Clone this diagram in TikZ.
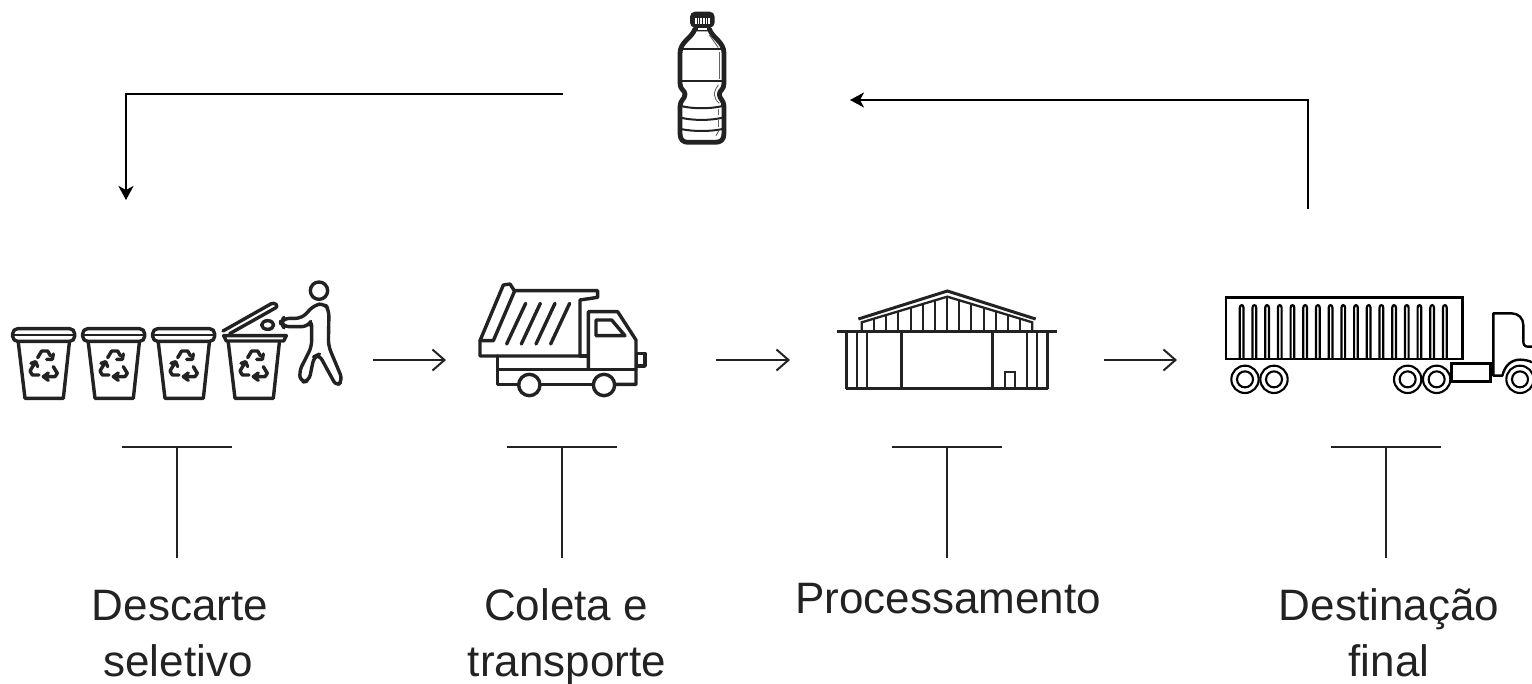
\documentclass[tikz,border=0pt]{standalone}
\usepackage{fontspec}
\setmainfont{Liberation Sans}
\usetikzlibrary{arrows.meta}
\definecolor{ink}{HTML}{222222}
\newcommand{\binbody}[1]{%
  \begin{scope}[shift={(#1,0)}]
    \path[icon] (55,218) -- (75,385) -- (190,385) -- (208,218);
    \begin{scope}[shift={(75,225)}]
      \path[icon] (38,38) -- (50,18) -- (68,18) -- (76,32);
      \path[icon] (65,43) -- (82,43) -- (85,27);
      \path[icon] (42,90) -- (22,90) -- (15,78) -- (27,58);
      \path[icon] (18,55) -- (32,50) -- (38,65);
      \path[icon] (85,65) -- (97,85) -- (90,95) -- (60,95);
      \path[icon] (70,84) -- (55,95) -- (70,106);
    \end{scope}
  \end{scope}}
\newcommand{\fullbin}[1]{%
  \begin{scope}[shift={(#1,0)}]
    \path[icon,rounded corners=5pt] (38,176) rectangle (224,214);
    \path[draw=ink,line width=2.6pt] (38,195) -- (224,195);
  \end{scope}
  \binbody{#1}}
\tikzset{
  x=1pt,y=-1pt,
  icon/.style={draw=ink,line width=3.4pt,line join=round,line cap=round},
  thinicon/.style={draw=ink,line width=2pt,line join=round,line cap=round},
  flow/.style={draw=black,line width=2.3pt,-{Stealth[length=14pt,width=15pt,inset=4pt]}},
  stepflow/.style={draw=ink,line width=1.8pt,-{Straight Barb[length=12pt,width=21pt,line width=2pt]}},
  stem/.style={draw=ink,line width=1.3pt},
  caption/.style={font=\fontsize{44}{56}\selectfont,align=center,inner sep=0pt,text=ink,anchor=base},
}
\begin{document}
\begin{tikzpicture}
\useasboundingbox (0,0) rectangle (1532,683);
\path[fill=white] (0,0) rectangle (1532,683);

% ---- bottle
\begin{scope}[shift={(660,5)},scale=1/3]
  \path[draw=ink,line width=4.8pt,line join=round,fill=white]
    (105,72) .. controls (95,100) and (60,110) .. (60,145) -- (60,235)
    .. controls (60,255) and (75,255) .. (75,268) .. controls (75,282) and (60,285) .. (60,305)
    -- (60,385) .. controls (60,405) and (70,412) .. (85,412) -- (165,412)
    .. controls (182,412) and (192,405) .. (192,385) -- (192,305)
    .. controls (192,285) and (178,282) .. (178,268) .. controls (178,255) and (192,255) .. (192,235)
    -- (192,145) .. controls (192,110) and (158,100) .. (148,72) -- cycle;
  \path[fill=ink,rounded corners=5pt] (90,20) rectangle (164,68);
  \path[fill=white] (105,40) rectangle (150,58);
  \foreach \sx in {110,118,126,134,142} \path[fill=ink] (\sx,40) rectangle (\sx+3,58);
  \path[draw=ink,line width=1.6pt,fill=white] (111,68) rectangle (143,76);
  \path[thinicon] (60,133) -- (192,133);
  \path[thinicon] (60,228) -- (192,228);
  \path[thinicon] (62,303) .. controls (100,312) and (150,312) .. (188,303);
  \path[thinicon] (62,338) .. controls (100,347) and (150,347) .. (188,338);
  \path[thinicon] (62,372) .. controls (100,380) and (150,380) .. (188,372);
  \path[draw=ink!70,line width=.9pt] (148,90) -- (175,128);
  \path[draw=ink!70,line width=.9pt] (178,142) -- (178,222);
  \path[draw=ink!70,line width=.9pt] (175,240) .. controls (158,262) and (160,280) .. (178,295);
  \path[draw=ink!70,line width=.9pt] (176,312) -- (176,330);
  \path[draw=ink!70,line width=.9pt] (176,346) -- (176,366);
  \path[draw=ink!70,line width=.9pt] (176,378) -- (168,392);
\end{scope}

% ---- bins
\begin{scope}[shift={(0,270)},scale=1/3]
  \fullbin{0}
  \fullbin{210}
  \fullbin{420}
  \binbody{630}
\end{scope}
% open bin and person
\begin{scope}[shift={(215,275)},scale=1/3]
  \path[icon] (26,182) -- (214,182) -- (206,198) -- (34,198) -- cycle;
  \path[icon,rounded corners=3pt] (24,168) -- (176,82) -- (190,94) -- (44,176);
  \path[icon] (158,150) ellipse (18 and 13);
  \path[icon] (312,47) circle (26);
  \path[icon,rounded corners=6pt]
    (205,130) -- (260,130) -- (298,90) -- (328,85) -- (342,105) -- (340,212)
    -- (383,315) -- (365,335) -- (312,238) -- (297,245) -- (282,318) -- (258,322)
    -- (252,290) -- (290,215) -- (290,135) -- (278,155) -- (205,155)
    -- (198,143) -- cycle;
\end{scope}

% ---- dump truck
\begin{scope}[shift={(460,270)},scale=1/3]
  \path[icon] (60,212) -- (130,45) -- (150,42) -- (163,62) -- (413,62) -- (413,82) -- (360,90) -- (360,258) -- (60,258) -- cycle;
  \path[icon] (60,212) -- (100,212) -- (163,65);
  \foreach \sx in {0,44,88,132} \path[icon] (197+\sx,100) -- (140+\sx,222);
  \path[icon] (385,298) -- (385,125) -- (473,125) -- (528,210) -- (528,343) -- (464,343);
  \path[icon] (408,150) -- (455,150) -- (495,197) -- (408,197) -- cycle;
  \path[icon] (530,250) rectangle (555,288);
  \path[icon] (360,258) -- (385,258);
  \path[icon] (113,258) -- (113,343) -- (176,343);
  \path[icon] (113,298) -- (528,298);
  \path[icon] (240,343) -- (400,343);
  \path[icon] (208,345) circle (32);
  \path[icon] (432,345) circle (32);
\end{scope}

% ---- warehouse
\begin{scope}[shift={(825,280)},scale=1/3]
  \path[draw=ink,line width=3pt,line join=miter] (100,117) -- (367,33) -- (632,117);
  \path[draw=ink,line width=2.3pt] (110,150) -- (110,127) -- (367,50) -- (622,127) -- (622,150);
  \foreach \sx/\sy in {148/116,184/105,220/94,257/83,293/72,330/61,367/50,403/62,439/73,476/84,513/95,549/105,585/116}
    \path[draw=ink,line width=1.9pt] (\sx,\sy) -- (\sx,150);
  \path[draw=ink,line width=3pt] (37,154) -- (695,154);
  \foreach \sx in {65,96,229,503,606,667}
    \path[draw=ink,line width=2.5pt] (\sx,154) -- (\sx,326);
  \foreach \sx in {126,636}
    \path[draw=ink,line width=1.8pt] (\sx,154) -- (\sx,326);
  \path[draw=ink,line width=3pt] (62,326) -- (670,326);
  \path[draw=ink,line width=1.8pt] (541,326) -- (541,275) -- (569,275) -- (569,326);
\end{scope}

% ---- trailer truck
\begin{scope}[shift={(1215,285)},scale=1/3]
  \path[draw=black,line width=2.4pt] (33,38) rectangle (743,222);
  \foreach \ri in {0,...,16}{
    \pgfmathsetmacro{\rx}{80+38.1*\ri}
    \path[draw=black,line width=2.2pt] (\rx-5.5,222) -- (\rx-5.5,68) .. controls (\rx-5.5,58) and (\rx+5.5,58) .. (\rx+5.5,68) -- (\rx+5.5,222);
  }
  \foreach \wx in {90,177,578,665}{
    \path[draw=black,line width=2.1pt] (\wx,283) circle (41);
    \path[draw=black,line width=2.1pt] (\wx,283) circle (24);
  }
  \path[draw=black,line width=2.4pt] (710,236) rectangle (827,290);
  \path[draw=black,line width=2.4pt,line join=round]
    (951,185) -- (940,185) .. controls (930,185) and (925,180) .. (925,170) -- (925,120)
    .. controls (925,100) and (910,85) .. (890,85) -- (835,85) -- (835,272) -- (862,272)
    .. controls (870,240) and (890,224) .. (915,224) .. controls (930,224) and (945,228) .. (951,232);
  \path[draw=black,line width=2.1pt] (915,283) circle (41);
  \path[draw=black,line width=2.1pt] (915,283) circle (24);
\end{scope}

% ---- connectors
\coordinate (loopAstart) at (563,94);
\coordinate (loopAcorner) at (126,94);
\coordinate (loopAend) at (126,200);
\coordinate (loopBstart) at (1308,209);
\coordinate (loopBcorner) at (1308,100);
\coordinate (loopBend) at (850,100);
\path[flow] (loopAstart) -- (loopAcorner) -- (loopAend);
\path[flow] (loopBstart) -- (loopBcorner) -- (loopBend);

\foreach \nm/\xa/\xb in {one/373/446,two/716/790,three/1104/1177}{
  \coordinate (s\nm) at (\xa,360);
  \coordinate (e\nm) at (\xb,360);
  \path[stepflow] (s\nm) -- (e\nm);
}

\foreach \nm/\xc in {a/177,b/562,c/947,d/1386}{
  \coordinate (tl\nm) at (\xc-55,447);
  \coordinate (tr\nm) at (\xc+55,447);
  \coordinate (tm\nm) at (\xc,447);
  \coordinate (tb\nm) at (\xc,558);
  \path[stem] (tl\nm) -- (tr\nm);
  \path[stem] (tm\nm) -- (tb\nm);
}

% ---- labels
\node[caption] (desc1) at (180,620) {Descarte};
\node[caption] (desc2) at (178,676) {seletivo};
\node[caption] (cole1) at (566,620) {Coleta e};
\node[caption] (cole2) at (567,676) {transporte};
\node[caption] (proc) at (948,613) {Processamento};
\node[caption] (dest1) at (1389,620) {Destinação};
\node[caption] (dest2) at (1389,676) {final};
\end{tikzpicture}
\end{document}
